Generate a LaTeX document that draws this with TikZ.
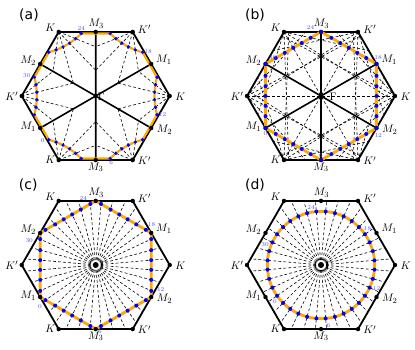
\documentclass[tikz,border=0pt]{standalone}
\usepackage{fontspec}
\newfontfamily\lblfont{DejaVu Sans}
\usetikzlibrary{calc}
\definecolor{dotblue}{RGB}{0,0,255}
\definecolor{numblue}{RGB}{80,80,255}
\definecolor{loopor}{RGB}{255,168,0}
\def\R{74}
\tikzset{
  bz/.style={line width=1.8pt, line join=round},
  gm/.style={line width=1.6pt},
  dashline/.style={line width=0.6pt, dash pattern=on 2.8pt off 2.2pt},
  loopline/.style={line width=2.8pt, draw=loopor, line join=round},
  looplinea/.style={line width=2.2pt, draw=loopor, line join=round},
  bdot/.style={circle, fill=dotblue, inner sep=0pt, minimum size=4pt},
  bdota/.style={circle, fill=dotblue, inner sep=0pt, minimum size=3.7pt},
  kdot/.style={circle, fill=black, inner sep=0pt, minimum size=4.4pt},
  numlbl/.style={text=numblue, font=\fontsize{6}{7}\selectfont, inner sep=0.3pt},
  symlbl/.style={font=\fontsize{11}{13}\selectfont, inner sep=0.5pt},
  plabel/.style={font=\lblfont\fontsize{14}{16}\selectfont, inner sep=0pt},
}
\newcommand\mkcoords[1]{%
  \coordinate (#1G) at (0,0);
  \foreach \i in {0,...,5}{%
    \coordinate (#1K\i) at (\i*60:\R);
    \coordinate (#1M\i) at (30+\i*60:0.8660254*\R);
  }%
}
\newcommand\bzhex[1]{\draw[bz] (#1K0)--(#1K1)--(#1K2)--(#1K3)--(#1K4)--(#1K5)--cycle;}
\newcommand\bzdots[1]{%
  \foreach \i in {0,...,5}{\node[kdot] (#1dK\i) at (#1K\i) {}; \node[kdot] (#1dM\i) at (#1M\i) {};}%
}
\newcommand\bzlabels[2]{%
  \node[symlbl] (#1lK2) at ($(#1K2)+(-8.3,3.7)$) {$K$};
  \node[symlbl] (#1lK1) at ($(#1K1)+(11.7,2.7)$) {$K'$};
  \node[symlbl] (#1lK0) at ($(#1K0)+(10.7,-0.7)$) {$K$};
  \node[symlbl] (#1lK3) at ($(#1K3)+(-10,-0.7)$) {$K'$};
  \node[symlbl] (#1lK4) at ($(#1K4)+(-8.3,0)$) {$K$};
  \node[symlbl] (#1lK5) at ($(#1K5)+(11.7,-0.7)$) {$K'$};
  \node[symlbl] (#1lM1) at ($(#1M1)+(0.5,8)$) {$M_3$};
  \node[symlbl] (#1lM4) at ($(#1M4)+(0,-7)$) {$M_3$};
  \node[symlbl] (#1lM0) at ($(#1M0)+(12.7,4)$) {$M_1$};
  \node[symlbl] (#1lM2) at ($(#1M2)+(-12,3.3)$) {$M_2$};
  \node[symlbl] (#1lM3) at ($(#1M3)+(-12,1)$) {$M_1$};
  \node[symlbl] (#1lM5) at ($(#1M5)+(13.3,-1.5)$) {$M_2$};
  \node[symlbl] (#1lG) at ($(#1G)+(#2,-0.5)$) {$\Gamma$};
}
% exit parameter term for side with normal angle #1 (local frame, K at (R,0))
\newcommand\lamterm[1]{ifthenelse(and(0.8660254-cos(#1)>0.01, \dx*cos(#1)+\dy*sin(#1)>0.0001), (0.8660254-cos(#1))*\R/(\dx*cos(#1)+\dy*sin(#1)), 10000)}
\begin{document}
\begin{tikzpicture}[x=1pt,y=1pt]
\useasboundingbox (0,0) rectangle (415,350);

% ---------------- panel (a)
\begin{scope}[shift={(95.7,254)}]
  \mkcoords{a}
  \foreach \j in {0,...,5}{%
    \pgfmathsetmacro\ph{240+60*\j}
    \pgfmathtruncatemacro\kk{mod(4+\j,6)}
    \begin{scope}[rotate=\ph]
      \coordinate (aA\j) at (0.975*0.85*\R, -0.975*0.26*\R);
      \coordinate (aB\j) at (0.975*0.85*\R, 0.975*0.26*\R);
      \coordinate (aC\j) at (0.975*0.78*\R, 0);
      \coordinate (aCa\j) at ($(aA\j)!0.6667!(aC\j)$);
      \coordinate (aCb\j) at ($(aB\j)!0.6667!(aC\j)$);
      \foreach \m in {0,...,5}{%
        \pgfmathsetmacro\t{\m/5}
        \pgfmathsetmacro\px{0.975*\R*((1-\t)^2*0.85 + 2*\t*(1-\t)*0.78 + \t^2*0.85)}
        \pgfmathsetmacro\py{0.975*\R*0.26*(2*\t-1)}
        \pgfmathtruncatemacro\k{6*\j+\m}
        \coordinate (aP\k) at (\px,\py);
        \ifnum\m>0 \ifnum\m<5
          \pgfmathsetmacro\s{ifthenelse(\m<3,-30,30)}
          \pgfmathsetmacro\mu{\R*\py/(cos(\s)*\py - sin(\s)*(\px-\R))}
          \coordinate (aQ\k) at (\s:\mu);
          \draw[dashline] (aK\kk) -- (aQ\k);
        \fi\fi
      }
    \end{scope}
  }
  \draw[gm] (aM0)--(aM3) (aM1)--(aM4) (aM2)--(aM5);
  \bzhex{a}
  \draw[looplinea] (aA0) .. controls (aCa0) and (aCb0) .. (aB0) -- (aA1) .. controls (aCa1) and (aCb1) .. (aB1)
     -- (aA2) .. controls (aCa2) and (aCb2) .. (aB2) -- (aA3) .. controls (aCa3) and (aCb3) .. (aB3)
     -- (aA4) .. controls (aCa4) and (aCb4) .. (aB4) -- (aA5) .. controls (aCa5) and (aCb5) .. (aB5) -- cycle;
  \foreach \k in {0,...,35}{\node[bdota] (aD\k) at (aP\k) {};}
  \bzdots{a}
  \bzlabels{a}{5.6}
  \node[numlbl] (aN0) at ($(aP0)+(-6,-1)$) {0};
  \node[numlbl] (aN6) at ($(aP6)+(1,-4.5)$) {6};
  \node[numlbl] (aN12) at ($(aP12)+(5.5,0)$) {12};
  \node[numlbl] (aN18) at ($(aP18)+(5.5,1)$) {18};
  \node[numlbl] (aN24) at ($(aP24)+(0,5.5)$) {24};
  \node[numlbl] (aN30) at ($(aP30)+(-7.5,2)$) {30};
\end{scope}

% ---------------- panel (b)
\begin{scope}[shift={(321,254)}]
  \mkcoords{b}
  \foreach \k in {0,...,35}{%
    \pgfmathsetmacro\th{210+10*\k}
    \pgfmathsetmacro\d{mod(\th+30,60)-30}
    \pgfmathsetmacro\r{0.75*\R/cos(\d)}
    \coordinate (bP\k) at (\th:\r);
  }
  \foreach \i in {0,...,5}{%
    \draw[dashline] (bK\i) -- (bG);
    \begin{scope}[rotate=60*\i]
      \foreach \dd [count=\n] in {-20,-10,10,20}{%
        \pgfmathsetmacro\dx{-0.25*\R}
        \pgfmathsetmacro\dy{0.75*\R*tan(\dd)}
        \pgfmathsetmacro\lam{min(\lamterm{30},\lamterm{90},\lamterm{150},\lamterm{210},\lamterm{270},\lamterm{330})}
        \coordinate (bQ\i x\n) at (\R+\lam*\dx, \lam*\dy);
        \draw[dashline] (bK\i) -- (bQ\i x\n);
      }
    \end{scope}
  }
  \draw[gm] (bM0)--(bM3) (bM1)--(bM4) (bM2)--(bM5);
  \bzhex{b}
  \draw[loopline] (bM0)--(bM1)--(bM2)--(bM3)--(bM4)--(bM5)--cycle;
  \bzdots{b}
  \foreach \k in {0,...,35}{\node[bdot] (bD\k) at (bP\k) {};}
  \bzlabels{b}{12}
  \node[numlbl] (bN0) at ($(bP0)+(0,-6)$) {0};
  \node[numlbl] (bN6) at ($(bP6)+(0,5)$) {6};
  \node[numlbl] (bN12) at ($(bP12)+(1.7,-7)$) {12};
  \node[numlbl] (bN18) at ($(bP18)+(1.5,6.5)$) {18};
  \node[numlbl] (bN24) at ($(bP24)+(-10.5,4)$) {24};
  \node[numlbl] (bN30) at ($(bP30)+(7.3,6)$) {30};
\end{scope}

% ---------------- panel (c)
\begin{scope}[shift={(95.7,85)}]
  \mkcoords{c}
  \foreach \k in {0,...,35}{%
    \pgfmathsetmacro\th{215+10*\k}
    \pgfmathsetmacro\d{mod(\th+30,60)-30}
    \pgfmathsetmacro\r{0.75*\R/cos(\d)}
    \pgfmathsetmacro\e{mod(\th,60)-30}
    \pgfmathsetmacro\rb{0.8660254*\R/cos(\e)}
    \coordinate (cP\k) at (\th:\r);
    \coordinate (cE\k) at (\th:\rb);
    \draw[dashline] (cG) -- (cE\k);
  }
  \bzhex{c}
  \draw[loopline] (cM0)--(cM1)--(cM2)--(cM3)--(cM4)--(cM5)--cycle;
  \foreach \k in {0,...,35}{\node[bdot] (cD\k) at (cP\k) {};}
  \bzdots{c}
  \bzlabels{c}{8}
  \node[numlbl] (cN0) at ($(cP0)+(-5.5,-6.7)$) {0};
  \node[numlbl] (cN6) at ($(cP6)+(-1,-5.7)$) {6};
  \node[numlbl] (cN12) at ($(cP12)+(9.5,1.8)$) {12};
  \node[numlbl] (cN18) at ($(cP18)+(5.8,4.9)$) {18};
  \node[numlbl] (cN24) at ($(cP24)+(-7,6)$) {24};
  \node[numlbl] (cN30) at ($(cP30)+(-11,-1)$) {30};
\end{scope}

% ---------------- panel (d)
\begin{scope}[shift={(321,85)}]
  \mkcoords{d}
  \foreach \k in {0,...,35}{%
    \pgfmathsetmacro\th{215+10*\k}
    \pgfmathsetmacro\e{mod(\th,60)-30}
    \pgfmathsetmacro\rb{0.8660254*\R/cos(\e)}
    \coordinate (dP\k) at (\th:0.725*\R);
    \coordinate (dE\k) at (\th:\rb);
    \draw[dashline] (dG) -- (dE\k);
  }
  \bzhex{d}
  \draw[loopline] (dG) circle[radius=0.725*\R];
  \foreach \k in {0,...,35}{\node[bdot] (dD\k) at (dP\k) {};}
  \bzdots{d}
  \bzlabels{d}{8}
  \node[numlbl] (dN0) at ($(dP0)+(-2,-6)$) {0};
  \node[numlbl] (dN6) at ($(dP6)+(2.7,-6.7)$) {6};
  \node[numlbl] (dN12) at ($(dP12)+(7,-0.7)$) {12};
  \node[numlbl] (dN18) at ($(dP18)+(2.7,6)$) {18};
  \node[numlbl] (dN24) at ($(dP24)+(-5.3,4)$) {24};
  \node[numlbl] (dN30) at ($(dP30)+(-7.3,-2.7)$) {30};
\end{scope}

\node[plabel] (la) at (29,335) {(a)};
\node[plabel] (lb) at (255,335) {(b)};
\node[plabel] (lc) at (28.3,165) {(c)};
\node[plabel] (ld) at (255,165) {(d)};
\end{tikzpicture}
\end{document}
